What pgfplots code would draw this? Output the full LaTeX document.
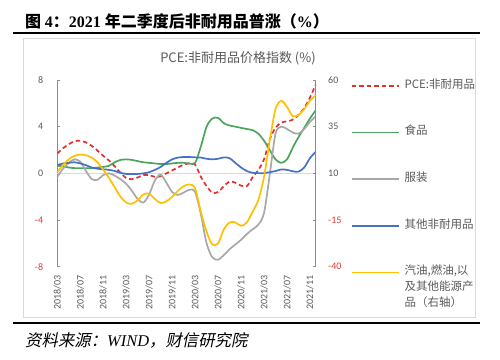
\documentclass[border=0pt]{standalone}
\usepackage{fontspec}
\setmainfont{Carlito}
\newfontfamily\cjk{Noto Sans CJK SC}
\newfontfamily\cjki{Noto Sans CJK SC}[FakeSlant=0.2]
\newfontfamily\serif{Liberation Serif}
\usepackage{pgfplots}
\usepackage{pgfplotstable}
\pgfplotsset{compat=1.18}
\definecolor{cpce}{HTML}{E0322D}
\definecolor{cfood}{HTML}{4CA55A}
\definecolor{ccloth}{HTML}{A8A8A8}
\definecolor{cother}{HTML}{4472C4}
\definecolor{cgas}{HTML}{FFC000}
\definecolor{negred}{HTML}{D93A30}
\definecolor{labelgray}{HTML}{595959}
\definecolor{axisgray}{HTML}{8C8C8C}
\definecolor{zerogray}{HTML}{D9D9D9}
\definecolor{framegray}{HTML}{D9D9D9}

\pgfplotstableread{
m pce food cloth other gas
0 1.7 0.65 -0.3 0.7 10.6
1 2.15 0.6 0.4 0.85 14.4
2 2.5 0.5 0.9 0.9 17.5
3 2.75 0.45 1.2 0.95 19.4
4 2.8 0.45 1.0 0.85 20.0
5 2.65 0.45 0.2 0.7 19.7
6 2.35 0.45 -0.5 0.5 18.4
7 1.95 0.5 -0.55 0.4 15.9
8 1.5 0.55 -0.15 0.35 11.9
9 1.1 0.65 0.0 0.3 7.5
10 0.6 0.95 -0.2 0.2 2.5
11 0.05 1.15 -0.5 0.05 -2.5
12 -0.4 1.2 -0.9 -0.05 -5.6
13 -0.5 1.15 -1.5 -0.05 -6.3
14 -0.35 1.05 -2.2 -0.05 -4.4
15 -0.15 0.95 -2.5 0.0 -1.3
16 -0.15 0.9 -1.8 0.1 -0.9
17 -0.3 0.85 -0.6 0.3 -3.8
18 -0.25 0.8 -0.1 0.55 -5.9
19 0.0 0.8 -0.8 0.9 -5.0
20 0.25 0.85 -1.6 1.2 -2.5
21 0.5 0.9 -1.85 1.35 0.6
22 0.75 0.9 -1.65 1.4 3.1
23 0.85 0.85 -1.4 1.4 4.1
24 0.75 0.9 -1.6 1.37 1.9
25 -0.3 2.3 -3.5 1.35 -10.6
26 -1.1 4.0 -6.0 1.25 -21.3
27 -1.65 4.7 -7.2 1.2 -28.1
28 -1.6 4.75 -7.4 1.25 -27.5
29 -1.1 4.3 -7.0 1.37 -20.0
30 -0.7 4.1 -6.5 1.3 -16.3
31 -0.8 4.0 -6.1 0.9 -16.3
32 -1.05 3.9 -5.7 0.5 -18.1
33 -1.1 3.8 -5.2 0.2 -16.3
34 -0.35 3.7 -4.8 0.05 -10.6
35 0.28 3.4 -4.4 0.02 -4.4
36 1.2 2.8 -3.4 0.02 8.1
37 2.9 2.0 -0.1 0.1 27.5
38 3.9 1.2 3.4 0.2 44.4
39 4.35 0.9 4.0 0.33 48.8
40 4.45 1.2 3.8 0.3 45.6
41 4.6 2.2 3.5 0.18 40.6
42 5.0 3.1 3.4 0.15 41.3
43 5.6 3.9 3.8 0.5 44.4
44 6.5 4.7 4.4 1.3 48.8
45 7.6 5.4 4.9 1.85 51.9
}\data

\begin{document}
\begin{tikzpicture}
\path (0pt,0pt) rectangle (500pt,359pt);
% title and rules
\node[anchor=west, inner sep=0pt] at (25pt,337.5pt) {\fontsize{16}{18}\selectfont{\cjk\bfseries 图 }{\serif\bfseries 4}{\cjk\bfseries ：}{\serif\bfseries 2021 }{\cjk\bfseries 年二季度后非耐用品普涨（}{\serif\bfseries\%}{\cjk\bfseries ）}};
\draw[line width=1.6pt] (13pt,326pt) -- (480pt,326pt);
\draw[framegray, line width=0.8pt] (23pt,42pt) rectangle (475pt,321pt);
\draw[line width=1.6pt] (13pt,36pt) -- (480pt,36pt);
\node[anchor=west, inner sep=0pt] at (25pt,18.3pt) {\fontsize{16.4}{18}\selectfont{\cjki 资料来源：}{\serif\itshape WIND}{\cjki ，财信研究院}};
% chart title
\node[inner sep=0pt, text=labelgray] at (238pt,301pt) {\cjk\fontsize{13}{15}\selectfont PCE:非耐用品价格指数 (\%)};

\begin{axis}[
  at={(57.3pt,92.3pt)}, anchor=south west, scale only axis,
  width=258.4pt, height=186.7pt,
  xmin=0, xmax=45, ymin=-8, ymax=8,
  axis y line*=left, axis x line*=bottom,
  axis line style={-},
  x axis line style={draw=none},
  y axis line style={draw=axisgray, line width=0.8pt},
  tick align=inside, major tick length=3pt,
  ytick={-8,-4,0,4,8},
  yticklabels={\textcolor{negred}{-8},\textcolor{negred}{-4},0,4,8},
  ytick style={draw=axisgray, line width=0.8pt},
  xtick={0,4,...,44},
  xticklabels={2018/03,2018/07,2018/11,2019/03,2019/07,2019/11,2020/03,2020/07,2020/11,2021/03,2021/07,2021/11},
  xtick style={draw=none},
  tick label style={font=\fontsize{10}{12}\selectfont, text=labelgray},
  x tick label style={yshift=-8.3pt, rotate=90, anchor=east, inner sep=0pt},
  y tick label style={anchor=east, inner sep=0pt, xshift=-14pt},
  extra y ticks={0}, extra y tick labels={},
  extra y tick style={grid=major, major grid style={draw=zerogray, line width=0.8pt}, major tick length=0pt},
  clip=false,
]
\addplot[cpce, line width=1.7pt, dash pattern=on 4.5pt off 3pt, smooth] table[x=m,y=pce]{\data};
\addplot[cfood, line width=1.7pt, smooth] table[x=m,y=food]{\data};
\addplot[ccloth, line width=1.7pt, smooth] table[x=m,y=cloth]{\data};
\addplot[cother, line width=1.7pt, smooth] table[x=m,y=other]{\data};
\end{axis}

\begin{axis}[
  at={(57.3pt,92.3pt)}, anchor=south west, scale only axis,
  width=258.4pt, height=186.7pt,
  xmin=0, xmax=45, ymin=-40, ymax=60,
  axis y line*=right, axis x line=none,
  axis line style={-},
  y axis line style={draw=axisgray, line width=0.8pt},
  tick align=inside, major tick length=3pt,
  ytick={-40,-15,10,35,60},
  yticklabels={\textcolor{negred}{-40},\textcolor{negred}{-15},10,35,60},
  ytick style={draw=axisgray, line width=0.8pt},
  tick label style={font=\fontsize{10}{12}\selectfont, text=labelgray},
  y tick label style={anchor=west, inner sep=0pt, xshift=12.3pt},
  clip=false,
  legend cell align=left,
  legend image code/.code={\draw[#1] (0pt,0pt) -- (47pt,0pt);},
  legend style={draw=none, fill=none, at={(1.1354,1)}, anchor=north west,
    inner sep=0pt, row sep=35.7pt,
    font=\cjk\fontsize{11.5}{16}\selectfont, text=labelgray,
    nodes={inner sep=0pt, text height=8pt, text depth=3pt},
    /tikz/every odd column/.style={column sep=5pt}},
]
\addlegendimage{cpce, line width=1.7pt, dash pattern=on 4.5pt off 3pt}
\addlegendentry{PCE:非耐用品}
\addlegendimage{cfood, line width=1.7pt}
\addlegendentry{食品}
\addlegendimage{ccloth, line width=1.7pt}
\addlegendentry{服装}
\addlegendimage{cother, line width=1.7pt}
\addlegendentry{其他非耐用品}
\addplot[cgas, line width=1.7pt, smooth] table[x=m,y=gas]{\data};
\addlegendentry{\begin{tabular}[t]{@{}l@{}}汽油,燃油,以\\及其他能源产\\品（右轴）\end{tabular}}
\end{axis}
\end{tikzpicture}
\end{document}
